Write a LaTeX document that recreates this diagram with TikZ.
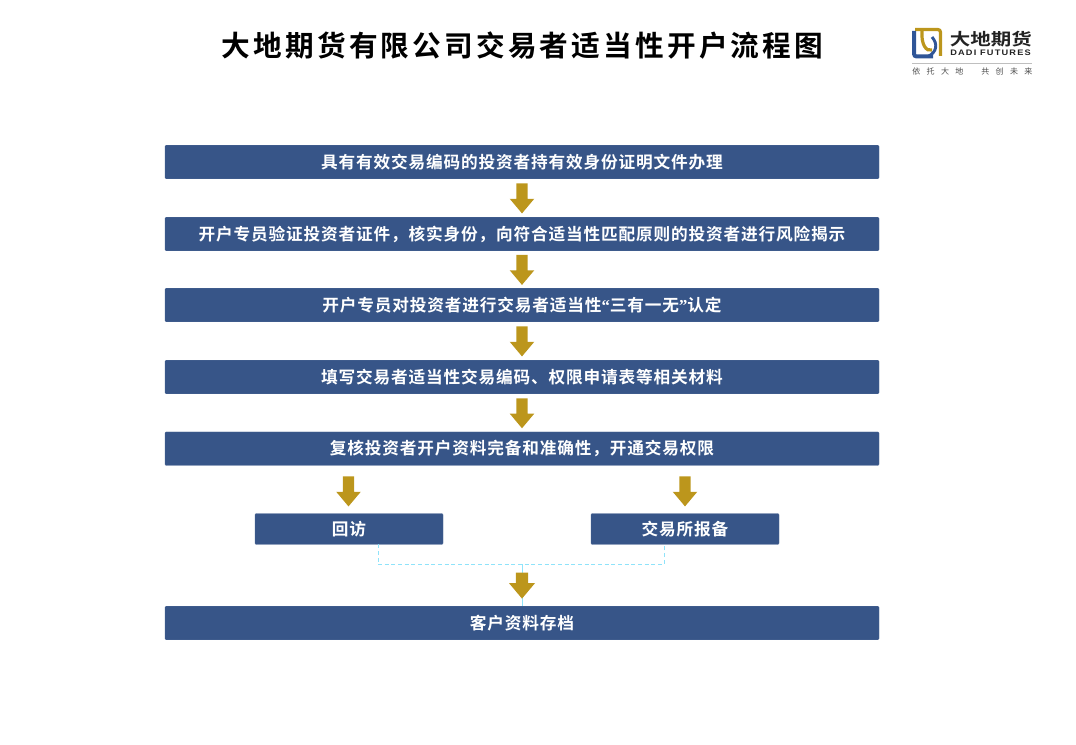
\documentclass[tikz,border=0pt]{standalone}
\usepackage{fontspec}
\setmainfont{Noto Sans CJK SC}[BoldFont={Noto Sans CJK SC Bold}]
\newfontfamily\latinfont{Liberation Sans}
\newfontfamily\quotefont{Liberation Serif}
\usepackage{xcolor}
\usetikzlibrary{
	calc,
	positioning,
	shapes.arrows
	}
\definecolor{barblue}{HTML}{375588}
\definecolor{argold}{HTML}{BC961C}
\definecolor{linkcyan}{HTML}{8FE3FA}
\definecolor{logoblue}{HTML}{2F5597}
\definecolor{logoink}{HTML}{222222}
\tikzstyle{bar-std}=[fill=barblue,draw=barblue!90!white,line width=0.2pt,rounded corners=0.8pt,inner sep=0pt,minimum width=535.5pt,minimum height=25.2pt,text=white,font={\fontsize{12.5}{14}\selectfont\bfseries\addfontfeature{LetterSpace=5}}]
\tikzstyle{bar-sub}=[bar-std,minimum width=141pt,minimum height=23.2pt]
\tikzstyle{arrow-std}=[single arrow,shape border rotate=270,fill=argold,inner sep=4.1pt,minimum width=18pt,minimum height=22.5pt,single arrow head extend=4.9pt,single arrow tip angle=80,single arrow head indent=0pt,yshift=2.25pt]
\tikzstyle{link-std}=[linkcyan,line width=0.5pt,densely dashed]
\begin{document}
\begin{tikzpicture}[x=0.75pt,y=-0.75pt]
\useasboundingbox (0,0) rectangle (1076,745);

\node[font={\fontsize{21.5}{24}\selectfont\bfseries\addfontfeature{LetterSpace=11}}] (title) at (522.5,45.7) {大地期货有限公司交易者适当性开户流程图};

\node[bar-std] (b1) at (522,162) {具有有效交易编码的投资者持有效身份证明文件办理};
\node[bar-std] (b2) at (522,234) {开户专员验证投资者证件，核实身份，向符合适当性匹配原则的投资者进行风险揭示};
\node[bar-std] (b3) at (522,305) {开户专员对投资者进行交易者适当性{\quotefont “}三有一无{\quotefont ”}认定};
\node[bar-std] (b4) at (522,377) {填写交易者适当性交易编码、权限申请表等相关材料};
\node[bar-std] (b5) at (522,448.7) {复核投资者开户资料完备和准确性，开通交易权限};
\node[bar-sub] (visit) at (349,529) {回访};
\node[bar-sub] (filing) at (685,529) {交易所报备};
\node[bar-std] (archive) at (522,623) {客户资料存档};

\coordinate (visitout) at (378,544.5);
\coordinate (filingout) at (664,544.5);
\coordinate (joinl) at (378,564.5);
\coordinate (joinr) at (664,564.5);
\coordinate (joinm) at (522,564.5);
\draw[link-std] (visitout) -- (joinl) -- (joinr) -- (filingout);
\draw[linkcyan,line width=0.5pt] (joinm) -- (joinm |- archive.north);

\node[arrow-std] (a1) at ($(b1.south)!0.5!(b2.north)$) {};
\node[arrow-std] (a2) at ($(b2.south)!0.5!(b3.north)$) {};
\node[arrow-std] (a3) at ($(b3.south)!0.5!(b4.north)$) {};
\node[arrow-std] (a4) at ($(b4.south)!0.5!(b5.north)$) {};
\node[arrow-std] (a5) at (348.5,491) {};
\node[arrow-std] (a6) at (685,491) {};
\node[arrow-std,minimum width=19.5pt,minimum height=19.5pt] (a7) at (522,585) {};

\draw[argold,line width=2.4pt,rounded corners=2pt] (915,29.5) -- (940.5,29.5) -- (940.5,56);
\draw[logoblue,line width=3pt,rounded corners=2pt] (914,31) -- (914,56.5) -- (933,56.5);
\draw[argold,line width=2.4pt] (922,31) .. controls (921,44) and (926,52) .. (932,50);
\draw[logoblue,line width=2.2pt] (928,56.5) .. controls (937,52) and (938,44) .. (932,37);
\node[anchor=west,inner sep=0pt,text=logoink,font={\fontsize{12.5}{16}\selectfont\bfseries\addfontfeature{FakeStretch=1.23}}] (logoname) at (949.5,39.5) {大地期货};
\node[anchor=west,inner sep=0pt,text=logoink,font={\latinfont\fontsize{6}{7}\selectfont\bfseries\addfontfeature{FakeStretch=1.15,LetterSpace=15}}] (logoen) at (950,53) {DADI FUTURES};
\draw[black!25,line width=0.5pt] (912,63.5) -- (1032,63.5);
\node[anchor=west,inner sep=0pt,text=black!70,font={\fontsize{6}{7}\selectfont\addfontfeature{LetterSpace=80}}] (logol) at (912,71) {依托大地};
\node[anchor=west,inner sep=0pt,text=black!70,font={\fontsize{6}{7}\selectfont\addfontfeature{LetterSpace=80}}] (logor) at (981,71) {共创未来};
\end{tikzpicture}
\end{document}
